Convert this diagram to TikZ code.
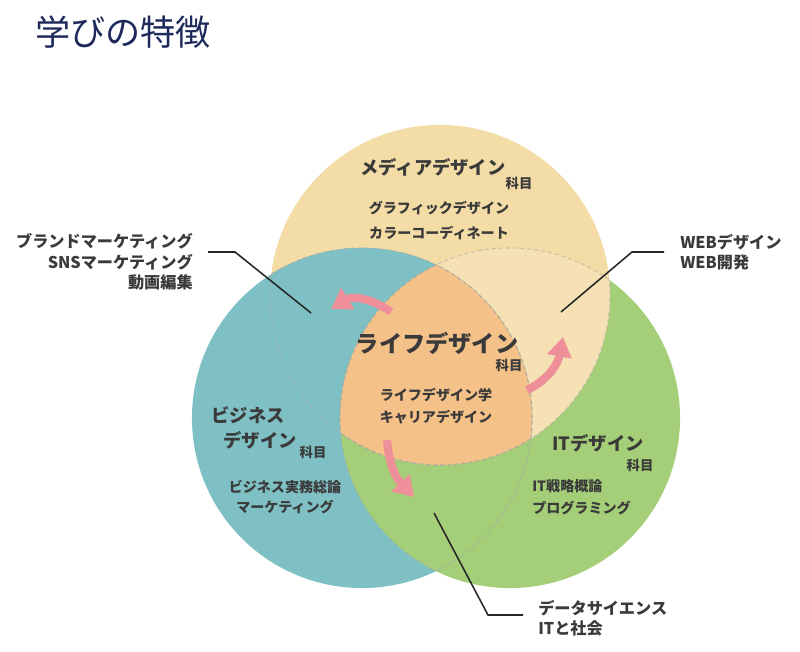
\documentclass[tikz,border=0pt]{standalone}
\usepackage{fontspec}
\setmainfont{Noto Sans CJK JP}
\usetikzlibrary{arrows.meta}
\definecolor{medcream}{HTML}{F3DCA6}
\definecolor{medcreamlt}{HTML}{F5E1B3}
\definecolor{bizteal}{HTML}{7EC0C4}
\definecolor{itgreen}{HTML}{A4CF78}
\definecolor{lifeorange}{HTML}{F4C189}
\definecolor{arrowpink}{HTML}{EE8F99}
\definecolor{ink}{HTML}{3A3A3A}
\definecolor{titlenavy}{HTML}{1E2A5C}
\tikzset{
  ttl/.style={font=\fontsize{25}{30}\selectfont, text=titlenavy, inner sep=0pt},
  hd/.style={font=\bfseries\fontsize{13}{16}\selectfont, text=ink, inner sep=0pt},
  hdl/.style={font=\bfseries\fontsize{16.5}{20}\selectfont, text=ink, inner sep=0pt},
  km/.style={font=\bfseries\fontsize{9.5}{11}\selectfont, text=ink, inner sep=0pt},
  sb/.style={font=\bfseries\fontsize{10}{17}\selectfont, text=ink, inner sep=0pt, align=center},
  note/.style={font=\bfseries\fontsize{11.5}{14.6}\selectfont, text=ink, inner sep=0pt},
  ld/.style={line width=1.1pt, black!85},
  pa/.style={line width=5.8pt, arrowpink, -{Triangle[length=14pt,width=17pt]}},
  dl/.style={gray!70, opacity=0.5, line width=0.8pt, dash pattern=on 3pt off 2pt},
}
\def\rr{4.25cm}

\begin{document}
\begin{tikzpicture}[x=0.025cm, y=-0.025cm]
\useasboundingbox (0,0) rectangle (800,651);
\node[ttl, anchor=west] (title) at (35,32) {学びの特徴};

% three circles
\coordinate (cm) at (440,295);
\coordinate (cb) at (362,418);
\coordinate (cg) at (510,418);
\fill[itgreen] (cg) circle[radius=\rr];
\fill[medcream] (cm) circle[radius=\rr];
\fill[bizteal] (cb) circle[radius=\rr];
\begin{scope} \clip (cm) circle[radius=\rr]; \fill[medcreamlt] (cg) circle[radius=\rr]; \end{scope}
\begin{scope} \clip (cm) circle[radius=\rr]; \fill[bizteal] (cb) circle[radius=\rr]; \end{scope}
\begin{scope} \clip (cb) circle[radius=\rr]; \fill[itgreen] (cg) circle[radius=\rr]; \end{scope}
\begin{scope}
  \clip (cm) circle[radius=\rr]; \clip (cb) circle[radius=\rr];
  \fill[lifeorange] (cg) circle[radius=\rr];
\end{scope}
\foreach \a/\b in {cm/cb, cm/cg, cb/cm, cb/cg, cg/cm, cg/cb} {
  \begin{scope} \clip (\b) circle[radius=\rr]; \draw[dl] (\a) circle[radius=\rr]; \end{scope}
}

% media
\node[hd] (media) at (433,167) {メディアデザイン};
\node[km] (mediak) at (519,183) {科目};
\node[sb, font=\bfseries\fontsize{10}{17.8}\selectfont] (mediasub) at (439,220) {グラフィックデザイン\\カラーコーディネート};

% life
\node[hdl] (life) at (437,343) {ライフデザイン};
\node[km] (lifek) at (509,365) {科目};
\node[sb, font=\bfseries\fontsize{10}{15.6}\selectfont] (lifesub) at (436,406) {ライフデザイン学\\キャリアデザイン};

% business
\node[hd] (biz1) at (248,415) {ビジネス};
\node[hd] (biz2) at (260,440) {デザイン};
\node[km] (bizk) at (313,452) {科目};
\node[sb, font=\bfseries\fontsize{10}{14.4}\selectfont] (bizsub) at (285,497) {ビジネス実務総論\\マーケティング};

% it
\node[hd] (it) at (598,443) {ITデザイン};
\node[km] (itk) at (640,465) {科目};
\node[sb, align=left, anchor=west, font=\bfseries\fontsize{10}{15.6}\selectfont] (itsub) at (532,497) {IT戦略概論\\プログラミング};

% pink arrows
\coordinate (pa1) at (391,312); \coordinate (pa1e) at (331,309);
\coordinate (pa2) at (527,390); \coordinate (pa2e) at (563,337);
\coordinate (pa3) at (387,440); \coordinate (pa3e) at (414,497);
\draw[pa] (pa1) .. controls (372,298) and (352,296) .. (pa1e);
\draw[pa] (pa2) .. controls (548,380) and (558,364) .. (pa2e);
\draw[pa] (pa3) .. controls (389,465) and (396,478) .. (pa3e);

% callouts
\node[note, align=right, anchor=east] (brand) at (193,262) {ブランドマーケティング\\SNSマーケティング\\動画編集};
\coordinate (brand0) at (208,252); \coordinate (brand1) at (235,252); \coordinate (brand2) at (311,313);
\draw[ld] (brand0) -- (brand1) -- (brand2);
\node[note, align=left, anchor=west] (web) at (680,252) {WEBデザイン\\WEB開発};
\coordinate (web0) at (664,252); \coordinate (web1) at (632,252); \coordinate (web2) at (561,312);
\draw[ld] (web0) -- (web1) -- (web2);
\node[note, align=left, anchor=west] (data) at (538,618) {データサイエンス\\ITと社会};
\coordinate (data0) at (434,513); \coordinate (data1) at (488,615); \coordinate (data2) at (523,615);
\draw[ld] (data0) -- (data1) -- (data2);
\end{tikzpicture}
\end{document}
